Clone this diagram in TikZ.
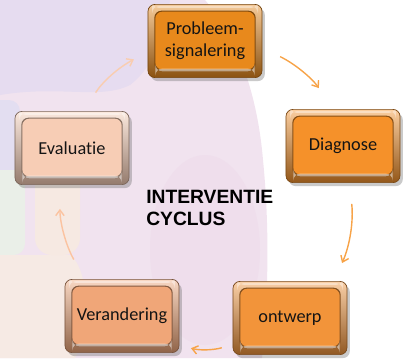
\documentclass[tikz,border=0pt]{standalone}
\usepackage{fontspec}
\setmainfont{Carlito}[Ligatures=NoCommon]
\newfontfamily\kopfont{Liberation Sans}
\usetikzlibrary{arrows.meta, shadows}
\tikzset{>={Straight Barb[length=4pt,width=6pt]}}

\definecolor{probkleur}{HTML}{E8891C}
\definecolor{diagkleur}{HTML}{F5912A}
\definecolor{ontwkleur}{HTML}{F2943A}
\definecolor{verakleur}{HTML}{F0A678}
\definecolor{evalkleur}{HTML}{F7CDB5}
\definecolor{oranje}{HTML}{F7A348}
\definecolor{perzik}{HTML}{FBC3A0}
\definecolor{lichtperzik}{HTML}{F9CDB0}
\definecolor{lavendel}{HTML}{E6DCF0}
\definecolor{roze}{HTML}{F1E3EF}
\definecolor{donkerroze}{HTML}{EFDEEC}
\definecolor{blauwig}{HTML}{E3DEF1}
\definecolor{groenig}{HTML}{EAEFE8}
\definecolor{beige}{HTML}{F6EAE4}
\definecolor{creme}{HTML}{F6E9E2}

\tikzset{
  knop/.style={rectangle, rounded corners=5pt, minimum width=2.85cm, minimum height=1.83cm,
    inner sep=2pt, align=center, text=black!92, font=\fontsize{13}{15.5}\selectfont,
    top color=#1!45!white, bottom color=#1!60!black, draw=#1!50!black, line width=0.5pt,
    drop shadow={shadow xshift=2pt, shadow yshift=-2.5pt, opacity=0.35, fill=black!60},
    path picture={
      \fill[#1!55!black] ([shift={(4.5pt,4.5pt)}]path picture bounding box.south west)
        rectangle ([shift={(-4.5pt,-4.5pt)}]path picture bounding box.north east);
      \fill[#1] ([shift={(5.2pt,5.8pt)}]path picture bounding box.south west)
        rectangle ([shift={(-5.2pt,-5.2pt)}]path picture bounding box.north east);
      \fill[white, opacity=0.5] ([shift={(5.2pt,4.5pt)}]path picture bounding box.south west)
        rectangle ([shift={(-5.2pt,6.4pt)}]path picture bounding box.south east);
      \fill[white, opacity=0.4] ([shift={(3pt,-2.5pt)}]path picture bounding box.north west)
        rectangle ([shift={(-3pt,-1.2pt)}]path picture bounding box.north east);
    }},
  pijl/.style={->, line width=1pt, draw=#1, bend left=15},
}

\begin{document}
\begin{tikzpicture}[x=0.025cm, y=-0.025cm]
  \useasboundingbox (0,0) rectangle (403,358);
  % achtergrond
  \fill[roze] (0,0) -- (205,0) .. controls (240,40) and (258,100) .. (263,160)
    .. controls (270,230) and (268,300) .. (262,358) -- (0,358) -- cycle;
  \fill[lavendel] (0,0) -- (170,0) .. controls (165,40) and (150,70) .. (130,85)
    .. controls (100,100) and (60,85) .. (0,95) -- cycle;
  \fill[donkerroze] (205,250) ellipse [x radius=55, y radius=95];
  \fill[blauwig, rounded corners=8pt] (-10,100) rectangle (20,175);
  \fill[groenig, rounded corners=8pt] (-10,170) rectangle (25,255);
  \fill[beige] (0,255) -- (70,255) .. controls (90,270) and (90,330) .. (75,358) -- (0,358) -- cycle;
  \fill[creme, rounded corners=12pt] (35,165) rectangle (80,255);

  % knoppen
  \node[knop=probkleur] (prob) at (205,41) {Probleem-\\signalering};
  \node[knop=diagkleur] (diag) at (343,146) {Diagnose};
  \node[knop=ontwkleur] (ontw) at (290,318) {ontwerp};
  \node[knop=verakleur] (vera) at (122,316) {Verandering};
  \node[knop=evalkleur] (eval) at (72,148) {Evaluatie};

  \node[font=\kopfont\bfseries\fontsize{13.7}{15.5}\selectfont, align=left,
    anchor=north west, inner sep=0pt] (titel) at (146,190) {INTERVENTIE\\CYCLUS};

  % pijlen
  \draw[pijl=oranje, shorten <=14pt, shorten >=18pt] (prob.-7) to (diag.105);
  \draw[pijl=oranje, shorten <=15pt, shorten >=14pt] (diag.-80) to (ontw.40);
  \draw[pijl=oranje, shorten <=8pt, shorten >=8.5pt] (ontw.-155) to (vera.-27);
  \draw[pijl=perzik, shorten <=16pt, shorten >=17pt] (vera.135) to (eval.-108);
  \draw[pijl=lichtperzik, shorten <=15.5pt, shorten >=11pt] (eval.72) to (prob.191);
\end{tikzpicture}
\end{document}
